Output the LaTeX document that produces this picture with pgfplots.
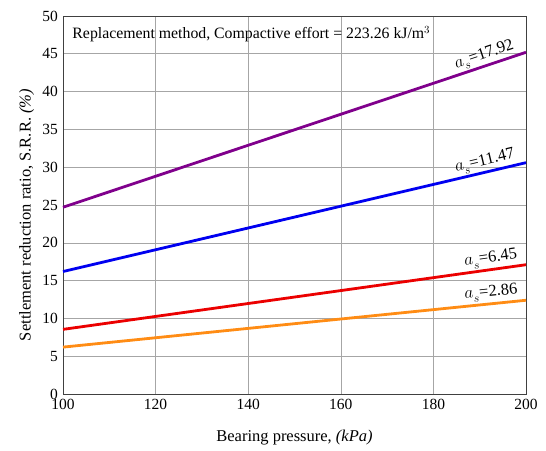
\documentclass[border=0pt]{standalone}
\usepackage{fontspec}
\setmainfont{Liberation Serif}
\usepackage{pgfplots}
\pgfplotsset{compat=1.18}
\definecolor{cpurple}{RGB}{128,0,140}
\definecolor{cblue}{RGB}{0,0,240}
\definecolor{cred}{RGB}{235,0,0}
\definecolor{corange}{RGB}{255,140,20}
\newcommand{\asl}[1]{$a_{\raisebox{-2pt}{$\scriptstyle s$}}$=#1}
\begin{document}
\begin{tikzpicture}
\fontsize{15}{18}\selectfont
\begin{axis}[
  scale only axis,
  width=463pt, height=378pt,
  xmin=100, xmax=200, ymin=0, ymax=50,
  xtick={100,120,...,200}, ytick={0,5,...,50},
  grid=major,
  grid style={gray!70, line width=0.6pt},
  axis line style={black!75, line width=0.9pt},
  tick style={draw=none},
  /pgf/number format/assume math mode=true,
  ticklabel style={font=\fontsize{15.5}{18}\selectfont},
  xlabel={Bearing pressure, \textit{(kPa)}},
  ylabel={Settlement reduction ratio, S.R.R. \textit{(\%)}},
  label style={font=\fontsize{16.5}{19}\selectfont},
  xlabel style={yshift=-10pt},
  ylabel style={yshift=-2pt, xshift=-10pt},
  clip=false,
]
\coordinate (sw) at (rel axis cs:0,0);
\coordinate (ne) at (rel axis cs:1,1);
\addplot[cpurple, line width=2.8pt] coordinates {(100,24.7) (200,45.2)}
  node[pos=0.985, sloped, anchor=south east, black, inner sep=1pt, font=\fontsize{16.5}{19}\selectfont] {\asl{17.92}};
\addplot[cblue, line width=2.8pt] coordinates {(100,16.2) (200,30.6)}
  node[pos=0.985, sloped, anchor=south east, black, inner sep=1pt, font=\fontsize{16.5}{19}\selectfont] {\asl{11.47}};
\addplot[cred, line width=2.8pt] coordinates {(100,8.55) (200,17.1)}
  node[pos=0.99, sloped, anchor=south east, black, inner sep=1.5pt, font=\fontsize{16.5}{19}\selectfont] {\asl{6.45}};
\addplot[corange, line width=2.8pt] coordinates {(100,6.2) (200,12.4)}
  node[pos=0.99, sloped, anchor=south east, black, inner sep=1.5pt, font=\fontsize{16.5}{19}\selectfont] {\asl{2.86}};
\node[anchor=west, inner sep=0pt, font=\fontsize{15.8}{18}\selectfont] at (axis cs:102,47.6) {Replacement method, Compactive effort = 223.26 kJ/m$^{3}$};
\end{axis}
\path[use as bounding box] ([shift={(-63pt,-56pt)}]sw) rectangle ([shift={(20pt,16pt)}]ne);
\end{tikzpicture}
\end{document}
